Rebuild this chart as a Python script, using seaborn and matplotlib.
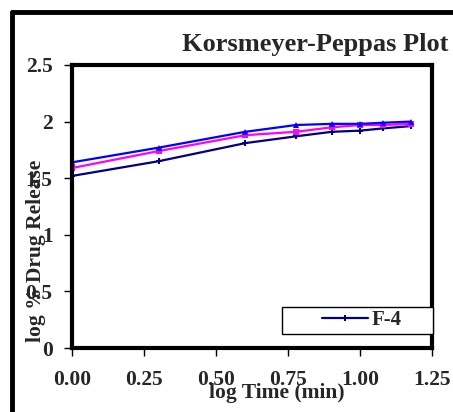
import numpy as np
import pandas as pd
import matplotlib
matplotlib.use("Agg")
import matplotlib.pyplot as plt
from matplotlib.lines import Line2D
from matplotlib.patches import Rectangle
import seaborn as sns

# log time (min) for 1, 2, 4, 6, 8, 10, 12, 15 min
log_time = [0.0, 0.301, 0.602, 0.778, 0.903, 1.0, 1.079, 1.176]
# log % drug release
f4 = [1.52, 1.65, 1.81, 1.87, 1.91, 1.92, 1.94, 1.96]
f5 = [1.59, 1.74, 1.88, 1.91, 1.95, 1.97, 1.97, 1.98]
f6 = [1.64, 1.77, 1.91, 1.97, 1.98, 1.98, 1.99, 2.00]
series_names = ["F-4", "F-5", "F-6"]
y_ticks = [0, 0.5, 1, 1.5, 2, 2.5]
x_ticks = [0.0, 0.25, 0.5, 0.75, 1.0, 1.25]

df = pd.DataFrame({
    "log_time": log_time * 3,
    "log_release": f4 + f5 + f6,
    "formulation": np.repeat(series_names, len(log_time)),
})

sns.set_style("white")
plt.rcParams["font.family"] = ["Liberation Serif", "DejaVu Serif"]
plt.rcParams["font.weight"] = "bold"

fig = plt.figure(figsize=(4.53, 4.12), dpi=100)
ax = fig.add_axes([72 / 453, 1 - 348 / 412, 360 / 453, 283 / 412])

palette = {"F-4": "#000080", "F-5": "#FF00FF", "F-6": "#0000FF"}
markers = {"F-4": "P", "F-5": "s", "F-6": "^"}
for name in series_names:
    sub = df[df["formulation"] == name]
    sns.lineplot(data=sub, x="log_time", y="log_release", color=palette[name],
                 marker=markers[name], markersize=4, markeredgewidth=0,
                 linewidth=1.6, ax=ax, legend=False)

ax.set_xlim(0, 1.25)
ax.set_ylim(0, 2.5)
ax.set_xticks(x_ticks)
ax.set_xticklabels([f"{v:.2f}" for v in x_ticks])
ax.set_yticks(y_ticks)
ax.set_yticklabels([f"{v:g}" for v in y_ticks])
ax.tick_params(axis="both", labelsize=15.5, direction="out", length=6, width=1,
               color="black", left=True, bottom=True)
ax.tick_params(axis="x", pad=10)
ax.tick_params(axis="y", pad=8)
for lbl in ax.get_xticklabels() + ax.get_yticklabels():
    lbl.set_fontweight("bold")
for sp in ax.spines.values():
    sp.set_visible(True)
    sp.set_color("black")
    sp.set_linewidth(3)

ax.set_xlabel("log Time (min)", fontsize=15.5, fontweight="bold", va="center")
ax.xaxis.set_label_coords(0.57, -0.16)
ax.set_ylabel("log % Drug Release", fontsize=15.5, fontweight="bold", va="center")
ax.yaxis.set_label_coords(-0.10, 0.343)

fig.text(315 / 453, 1 - 45 / 412, "Korsmeyer-Peppas Plot", fontsize=19,
         fontweight="bold", ha="center", va="center")

# legend box: only F-4 is visible in the cropped chart
ax.add_patch(Rectangle((0.583, 0.05), 0.42, 0.095, transform=ax.transAxes,
                       facecolor="white", edgecolor="black", linewidth=1,
                       zorder=4, clip_on=False))
handle = Line2D([], [], color=palette["F-4"], marker="P", markersize=4,
                markeredgewidth=0, linewidth=1.6)
leg = ax.legend([handle], ["F-4"], loc="center left",
                bbox_to_anchor=(0.695, 0.0975), frameon=False,
                prop={"weight": "bold", "size": 15}, handlelength=2.2,
                handletextpad=0.15, borderpad=0, borderaxespad=0)
leg.set_zorder(5)

# outer chart frame (left and top edges visible in the crop)
fig.add_artist(Line2D([12 / 453, 12 / 453], [0, 1 - 12 / 412], color="black",
                      linewidth=3.5, transform=fig.transFigure))
fig.add_artist(Line2D([12 / 453, 1], [1 - 12 / 412, 1 - 12 / 412], color="black",
                      linewidth=3.5, transform=fig.transFigure))

fig.savefig("out.png", dpi=100)
